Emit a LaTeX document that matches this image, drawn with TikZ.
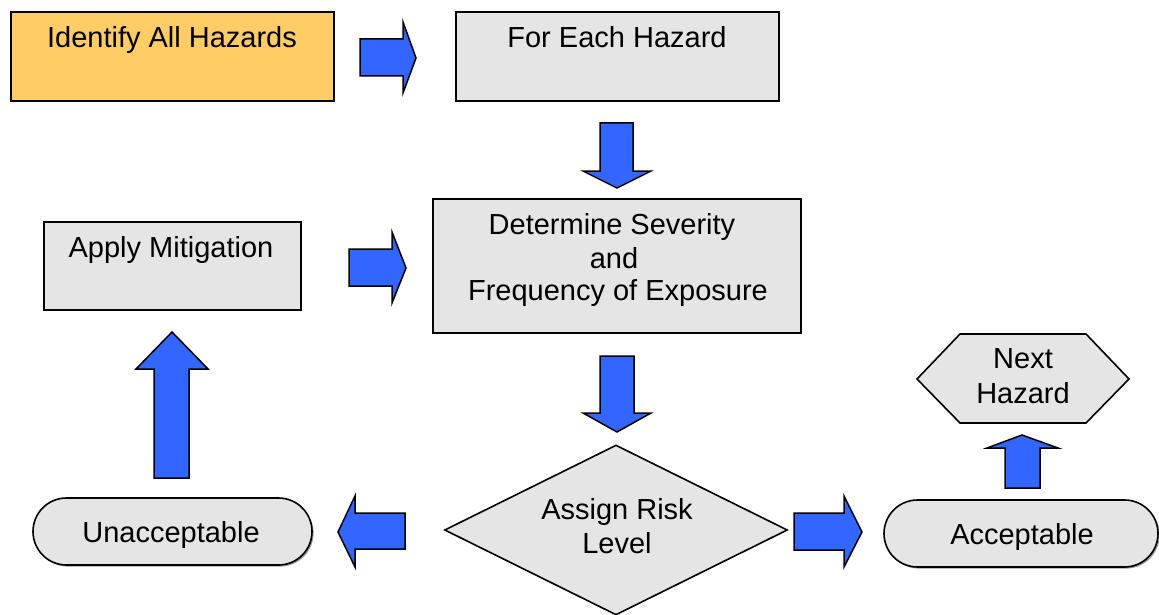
\documentclass[tikz,border=0pt]{standalone}
\usepackage{fontspec}
\setmainfont{Liberation Sans}
\usetikzlibrary{shapes.geometric,shadows}
\definecolor{boxorange}{HTML}{FFCC66}
\definecolor{boxgray}{HTML}{E5E5E5}
\definecolor{arrowblue}{HTML}{3366FF}
\begin{document}
\begin{tikzpicture}[x=1pt,y=-1pt,
  box/.style={draw=black,line width=1.6pt,fill=boxgray,inner sep=0pt,
    drop shadow={shadow xshift=1.6pt,shadow yshift=-1.6pt,fill=black!40,opacity=1}},
  txt/.style={inner sep=0pt,anchor=base,font=\fontsize{29}{34}\selectfont},
  blockarrow/.style={draw=black,line width=1.5pt,fill=arrowblue,line join=miter}]
\useasboundingbox (0,0) rectangle (1159,615);

% boxes
\node[box,fill=boxorange,minimum width=323pt,minimum height=89pt,anchor=north west] (identify) at (10,11) {};
\node[txt] (identifyT) at (172,48) {Identify All Hazards};

\node[box,minimum width=323pt,minimum height=89pt,anchor=north west] (each) at (455,11) {};
\node[txt] (eachT) at (617,48) {For Each Hazard};

\node[box,minimum width=368pt,minimum height=134pt,anchor=north west] (determine) at (432,198) {};
\node[txt] (detA) at (612,234) {Determine Severity};
\node[txt] (detB) at (614,268) {and};
\node[txt] (detC) at (618,300) {Frequency of Exposure};

\node[box,minimum width=257pt,minimum height=88pt,anchor=north west] (mitig) at (43,221) {};
\node[txt] (mitigT) at (171,257) {Apply Mitigation};

\node[draw=black,line width=1.6pt,fill=boxgray,diamond,inner sep=0pt,
  minimum width=343pt,minimum height=170pt] (assign) at (616,530) {};
\node[txt] (assignA) at (617,519) {Assign Risk};
\node[txt] (assignB) at (617,553) {Level};

\node[box,rounded corners=33.5pt,minimum width=279pt,minimum height=67pt] (unacc) at (172.5,531.5) {};
\node[txt] (unaccT) at (171,542) {Unacceptable};

\node[box,rounded corners=33.5pt,minimum width=274pt,minimum height=67pt] (acc) at (1021,533.5) {};
\node[txt] (accT) at (1022,544) {Acceptable};

\draw[draw=black,line width=1.6pt,fill=boxgray,line join=miter]
  (917,379) -- (960,334) -- (1086,334) -- (1129,379) -- (1086,423) -- (960,423) -- cycle;
\node[txt] (nextA) at (1023,368) {Next};
\node[txt] (nextB) at (1023,403) {Hazard};

% block arrows
\draw[blockarrow] (360,39) -- (403,39) -- (403,22) -- (416,58) -- (403,93) -- (403,76) -- (360,76) -- cycle;
\draw[blockarrow] (600,123) -- (633,123) -- (633,171) -- (651,171) -- (617,188) -- (583,171) -- (600,171) -- cycle;
\draw[blockarrow] (349,249) -- (392,249) -- (392,232) -- (406,268) -- (392,303) -- (392,286) -- (349,286) -- cycle;
\draw[blockarrow] (600,356) -- (634,356) -- (634,413) -- (651,413) -- (617,432) -- (583,413) -- (600,413) -- cycle;
\draw[blockarrow] (405,513) -- (355,513) -- (355,496) -- (338,532) -- (355,567) -- (355,549) -- (405,549) -- cycle;
\draw[blockarrow] (794,513) -- (844,513) -- (844,496) -- (862,532) -- (844,567) -- (844,550) -- (794,550) -- cycle;
\draw[blockarrow] (154,478) -- (154,369) -- (136,369) -- (172,332) -- (208,369) -- (189,369) -- (189,478) -- cycle;
\draw[blockarrow] (1005,488) -- (1005,448) -- (987,448) -- (1022,435) -- (1058,448) -- (1040,448) -- (1040,488) -- cycle;
\end{tikzpicture}
\end{document}
